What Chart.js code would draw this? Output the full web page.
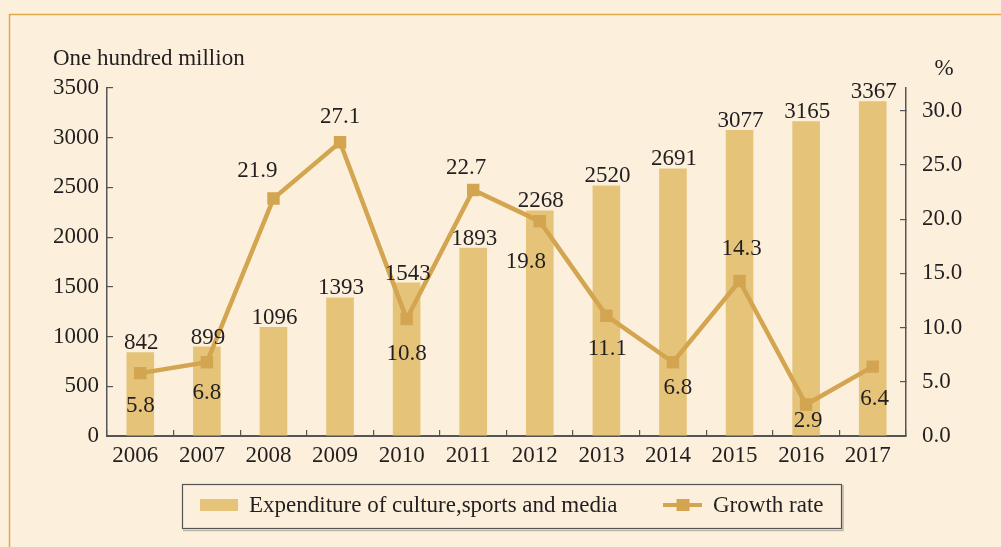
<!DOCTYPE html>
<html>
<head>
<meta charset="utf-8">
<script src="https://cdn.jsdelivr.net/npm/chart.js@4"></script>
<style>
  html, body { margin: 0; padding: 0; background: #fcf0dc; }
  canvas { display: block; }
</style>
</head>
<body>
<canvas id="c" width="1001" height="547"></canvas>
<script>
// ---- data ----
const years = ['2006','2007','2008','2009','2010','2011','2012','2013','2014','2015','2016','2017'];
const expenditure = [842, 899, 1096, 1393, 1543, 1893, 2268, 2520, 2691, 3077, 3165, 3367];
const growthRate = [5.8, 6.8, 21.9, 27.1, 10.8, 22.7, 19.8, 11.1, 6.8, 14.3, 2.9, 6.4];
const leftTickValues = [0, 500, 1000, 1500, 2000, 2500, 3000, 3500];
const rightTickValues = [0, 5, 10, 15, 20, 25, 30];
const barLabel = 'Expenditure of culture,sports and media';
const lineLabel = 'Growth rate';
const leftTitle = 'One hundred million';
const rightTitle = '%';

// ---- label placement (pixel offsets of growth labels from their points) ----
const growthLabelDx = [0, 0, -16, 0, 0, -7, -14, 1, 5, 2, 2, 2];
const growthLabelDy = [31, 29, -29, -27, 33, -24, 39, 32, 24, -34, 15, 31];

const FONT = '23px "Liberation Serif", "Times New Roman", serif';
const TEXT = '#231f20';
const AXIS = '#555555';
const BAR = '#e5c47a';
const LINE = '#d4a551';
const BG = '#fcf0dc';

const decorPlugin = {
  id: 'decor',
  beforeDraw(chart) {
    const ctx = chart.ctx;
    ctx.save();
    ctx.fillStyle = BG;
    ctx.fillRect(0, 0, chart.width, chart.height);
    ctx.strokeStyle = '#e2a64a';
    ctx.lineWidth = 1.5;
    ctx.beginPath();
    ctx.moveTo(9.5, chart.height);
    ctx.lineTo(9.5, 14.5);
    ctx.lineTo(chart.width, 14.5);
    ctx.stroke();
    ctx.restore();
  },
  afterDraw(chart) {
    const ctx = chart.ctx;
    ctx.save();
    ctx.font = FONT;
    ctx.fillStyle = TEXT;
    ctx.textBaseline = 'alphabetic';
    // axis titles
    ctx.textAlign = 'left';
    ctx.fillText(leftTitle, 53, 65);
    ctx.textAlign = 'center';
    ctx.fillText(rightTitle, 944, 75);

    // bar value labels
    const barMeta = chart.getDatasetMeta(0);
    barMeta.data.forEach((el, i) => {
      ctx.textAlign = 'center';
      ctx.fillText(String(expenditure[i]), el.x + 1, el.y - 3);
    });
    // growth labels
    const lineMeta = chart.getDatasetMeta(1);
    lineMeta.data.forEach((el, i) => {
      ctx.textAlign = 'center';
      ctx.fillText(growthRate[i].toFixed(1), el.x + growthLabelDx[i], el.y + growthLabelDy[i] + 7.8);
    });

    // legend
    ctx.strokeStyle = 'rgba(0,0,0,0.25)';
    ctx.lineWidth = 1.5;
    ctx.beginPath();
    ctx.moveTo(183, 530.5); ctx.lineTo(843, 530.5); ctx.lineTo(843, 485);
    ctx.stroke();
    ctx.strokeStyle = AXIS;
    ctx.lineWidth = 1.2;
    ctx.strokeRect(182.5, 484.5, 659, 44);
    ctx.fillStyle = BAR;
    ctx.fillRect(200, 499, 38, 12);
    ctx.strokeStyle = LINE;
    ctx.lineWidth = 4;
    ctx.beginPath();
    ctx.moveTo(663, 505); ctx.lineTo(702, 505);
    ctx.stroke();
    ctx.fillStyle = LINE;
    ctx.fillRect(676.5, 499, 13, 12);
    ctx.fillStyle = TEXT;
    ctx.textAlign = 'left';
    ctx.fillText(barLabel, 249, 512);
    ctx.fillText(lineLabel, 713, 512);
    ctx.restore();
  }
};

Chart.defaults.font.family = '"Liberation Serif", "Times New Roman", serif';
Chart.defaults.font.size = 23;
Chart.defaults.color = TEXT;

new Chart(document.getElementById('c'), {
  type: 'bar',
  data: {
    labels: years,
    datasets: [
      {
        type: 'bar',
        label: barLabel,
        data: expenditure,
        backgroundColor: BAR,
        borderWidth: 0,
        categoryPercentage: 1,
        barPercentage: 0.415,
        yAxisID: 'y',
        order: 2
      },
      {
        type: 'line',
        label: lineLabel,
        data: growthRate,
        borderColor: LINE,
        backgroundColor: LINE,
        borderWidth: 4.5,
        pointStyle: 'rect',
        pointRadius: 8.8,
        pointBorderWidth: 0,
        pointBackgroundColor: LINE,
        tension: 0,
        yAxisID: 'y1',
        order: 1
      }
    ]
  },
  options: {
    responsive: false,
    devicePixelRatio: 1,
    animation: false,
    layout: { padding: { left: 0, right: 0, top: 88, bottom: 71 } },
    plugins: {
      legend: { display: false },
      tooltip: { enabled: false },
      title: { display: false }
    },
    scales: {
      x: {
        offset: true,
        grid: { display: true, drawOnChartArea: false, offset: true, tickLength: -6, color: AXIS, lineWidth: 1.2 },
        border: { display: true, color: AXIS, width: 2 },
        ticks: { padding: 12, labelOffset: -5, color: TEXT, font: { size: 23 }, maxRotation: 0, autoSkip: false },
        afterFit(s) { s.height = 40; }
      },
      y: {
        position: 'left',
        min: 0,
        max: 3500,
        grid: { display: true, drawOnChartArea: false, tickLength: -6, color: AXIS, lineWidth: 1.2 },
        border: { display: true, color: AXIS, width: 1.5 },
        ticks: { padding: 14, color: TEXT, font: { size: 23 }, callback: v => String(v) },
        afterBuildTicks(s) { s.ticks = leftTickValues.map(v => ({ value: v })); },
        afterFit(s) { s.width = 107; }
      },
      y1: {
        position: 'right',
        min: 0,
        max: 32.1,
        grid: { display: true, drawOnChartArea: false, tickLength: -6, color: AXIS, lineWidth: 1.2 },
        border: { display: true, color: AXIS, width: 1.5 },
        ticks: { padding: 22, color: TEXT, font: { size: 23 }, callback: v => Number(v).toFixed(1) },
        afterBuildTicks(s) { s.ticks = rightTickValues.map(v => ({ value: v })); },
        afterFit(s) { s.width = 95; }
      }
    }
  },
  plugins: [decorPlugin]
});
</script>
</body>
</html>
